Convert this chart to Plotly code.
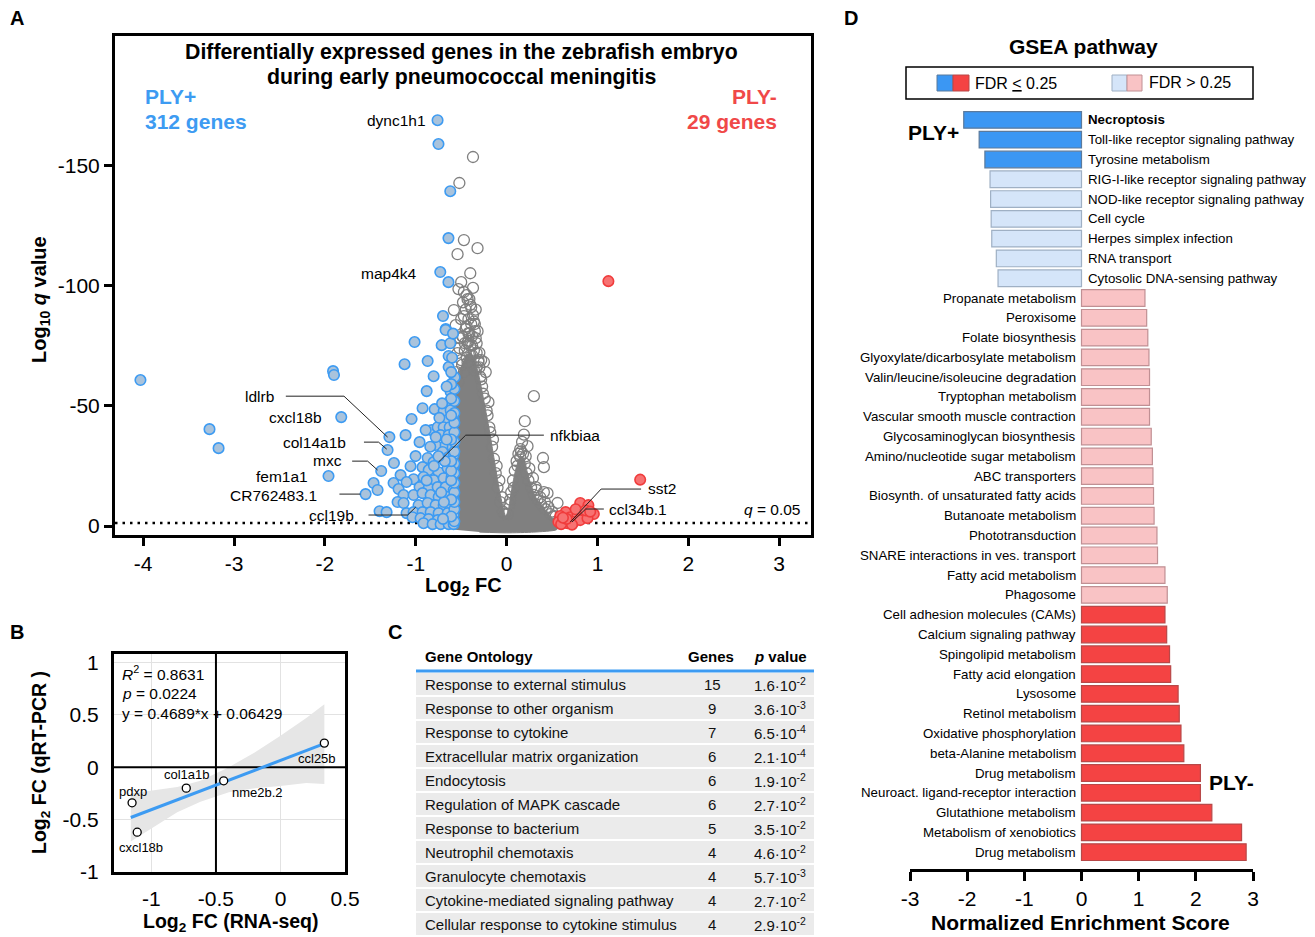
import math
import plotly.graph_objects as go

W, H = 1315, 937
OFF = 8  # page body margin of the html page
FONT = "Liberation Sans, Arial, Helvetica, sans-serif"
BLACK = "#000000"
BLUE = "#3d9bf2"
BLUE_FILL = "#a9c3dc"
RED_LINE = "#f03c3c"
RED_FILL = "#f77272"
GRAY = "#7f7f7f"

# ---------------- Panel A data (volcano) ----------------
x_ticks_a = [-4, -3, -2, -1, 0, 1, 2, 3]
y_ticks_a = [0, -50, -100, -150]
q_threshold_log10 = -1.3  # log10(0.05)
a_xrange = [-4.31, 3.35]
a_yrange = [3.7, -203.7]

# dense non-significant cloud outline (log2FC, log10 q)
cloud_fc = [-0.57, -0.57, -0.55, -0.52, -0.48, -0.44, -0.40, -0.36, -0.32, -0.28, -0.24, -0.20, -0.16,
            -0.12, -0.08, -0.04, -0.01, 0.02, 0.05, 0.08, 0.11, 0.14, 0.17, 0.20, 0.23, 0.27, 0.32,
            0.38, 0.44, 0.50, 0.55, 0.57, 0.55, 0.30, 0.00, -0.30]
cloud_q = [1.5, -45, -58, -64, -68, -71, -72, -70, -65, -58, -50, -42, -33,
           -24, -15, -8, -4, -7, -14, -20, -25, -28, -29, -27, -22, -17, -12,
           -9, -6, -3.5, -1.5, 0, 1.5, 2.5, 2.8, 2.5]

# individual non-significant genes
gray_fc = [-0.37, -0.52, -0.47, -0.32, -0.54, -0.40, -0.50, -0.53, -0.47, -0.43,
           -0.41, -0.58, -0.47, -0.37, -0.56, -0.42, -0.48, -0.34, -0.43, -0.54,
           -0.40, -0.31, -0.25, -0.36, -0.23, -0.20, 0.30, 0.20, 0.23, 0.15,
           0.40, 0.41, 0.32, 0.41, 0.45, 0.56,
           -0.29, -0.27, -0.24, -0.21, -0.19, -0.16, -0.14, -0.12, -0.10, -0.07, -0.04,
           -0.55, -0.50, -0.46, -0.42, -0.38, -0.33, -0.45, -0.39, -0.51, -0.35,
           0.03, 0.05, 0.07, 0.09, 0.11, 0.13, 0.16, 0.18, 0.20, 0.22,
           0.24, 0.27, 0.30, 0.34, 0.38, 0.43, 0.48, 0.52, 0.17, 0.19,
           -0.30, -0.26, -0.22, -0.18, -0.15, -0.11, -0.08, -0.05, -0.02,
           -0.49, -0.44, -0.40, -0.36, -0.31, -0.53, -0.47, -0.43, -0.38, -0.33, -0.28,
           0.01, 0.04, 0.08, 0.12, 0.15, 0.21, 0.25, 0.29, 0.33, 0.37, 0.42, 0.46, 0.50, 0.54,
           -0.52, -0.49, -0.46, -0.44, -0.41, -0.38, -0.36, -0.33, -0.30, -0.28,
           -0.50, -0.45, -0.42, -0.39, -0.35, -0.32, -0.48, -0.44, -0.40, -0.37, -0.34]
gray_q = [-153.4, -142.6, -118.9, -115.5, -113.0, -105.1, -101.4, -98.5, -97.3, -94.3,
          -94.3, -89.8, -87.3, -87.7, -83.5, -80.2, -78.6, -78.1, -76.1, -71.9,
          -71.1, -68.2, -68.2, -64.8, -64.0, -51.5, -54.0, -43.6, -33.2, -28.7,
          -28.3, -24.5, -16.2, -14.1, -13.7, -9.6,
          -62, -58, -53, -46, -41, -33, -28, -22, -16, -10, -6,
          -64, -69, -73, -77, -75, -72, -82, -84, -78, -81,
          -9, -14, -19, -23, -27, -30, -31, -30, -26, -22,
          -19, -16, -13, -11, -9, -7, -5, -4, -35, -38,
          -66, -55, -48, -39, -36, -25, -19, -12, -5,
          -67, -70, -75, -73, -69, -60, -64, -68, -71, -66, -61,
          -5, -11, -16, -25, -32, -29, -24, -20, -15, -12, -10, -8, -6, -4,
          -74, -79, -76, -83, -80, -79, -85, -76, -72, -69,
          -86, -90, -86, -91, -84, -81, -93, -96, -92, -99, -90]

# PLY+ genes (blue)
blue_fc = [-4.03, -3.27, -3.17, -1.91, -1.90, -1.82, -1.96, -1.29, -1.31, -1.24, -1.38,
           -0.76, -0.75, -0.62, -0.64, -0.73, -0.64, -0.70, -0.67,
           -0.671, -1.013, -0.715, -0.638, -1.123, -0.869, -0.638, -0.803, -0.572, -0.880,
           -0.616, -0.925, -0.792, -0.638, -0.693, -0.616, -1.046, -0.583, -0.649, -0.825,
           -0.891, -0.759, -0.693, -0.627, -1.112, -0.958, -0.726, -0.638, -0.781, -0.671,
           -0.594, -1.002, -0.869, -0.803, -0.704, -0.638, -0.583, -1.057, -0.925, -0.858,
           -0.748, -0.649, -0.583, -1.167, -1.024, -0.914, -0.803, -0.693, -0.605, -1.244,
           -1.101, -1.189, -0.958, -0.858, -0.759, -0.671, -0.583, -1.464, -1.420, -1.552,
           -1.134, -1.024, -0.925, -0.836, -0.748, -0.649, -0.583, -1.200, -1.134, -0.969,
           -0.869, -0.781, -0.693, -0.616, -1.398, -1.321, -1.101, -1.024, -0.925, -0.836,
           -0.748, -0.649, -0.583, -1.035, -0.947, -0.858, -0.759, -0.671, -0.594, -0.914,
           -0.814, -0.726, -0.638, -0.583,
           -0.575, -0.575, -0.575, -0.575, -0.575, -0.575, -0.575,
           -0.575, -0.575, -0.575, -0.575, -0.575, -0.575, -0.575,
           -0.61, -0.61, -0.61, -0.61, -0.61, -0.61, -0.61, -0.61, -0.61, -0.61,
           -0.70, -0.69, -0.72, -0.68, -0.75, -0.78, -0.84, -0.74, -0.80, -0.88,
           -0.66, -0.71, -0.66, -0.60, -0.62, -0.59]
blue_q = [-60.7, -40.3, -32.4, -64.4, -62.8, -45.3, -20.8, -37.0, -31.6, -26.2, -22.9,
          -168.7, -158.8, -139.2, -119.7, -105.6, -101.4, -87.3, -81.9,
          -81.5, -76.5, -75.2, -70.7, -67.3, -68.6, -66.1, -62.3, -61.9, -56.1,
          -55.7, -49.0, -48.6, -51.5, -47.8, -48.2, -44.5, -44.5, -44.1, -39.9,
          -39.9, -41.1, -41.1, -41.1, -37.8, -34.9, -37.8, -37.8, -33.7, -33.7,
          -32.8, -29.1, -28.3, -26.6, -30.8, -28.7, -29.5, -24.9, -24.5, -23.3,
          -22.4, -24.1, -24.5, -21.2, -19.5, -20.4, -19.1, -19.9, -20.4, -17.9,
          -18.3, -15.4, -16.2, -15.8, -16.2, -16.2, -15.0, -17.9, -15.0, -13.3,
          -12.9, -12.9, -13.7, -12.9, -12.1, -12.1, -11.6, -10.0, -9.6, -8.7,
          -9.6, -8.7, -8.7, -7.9, -6.2, -5.8, -5.4, -5.8, -5.8, -5.8,
          -5.4, -5.4, -4.6, -3.7, -3.3, -2.9, -2.5, -2.5, -1.7, -1.2,
          -0.8, -0.8, -0.8, -0.8,
          -2, -7, -10, -14, -18, -22, -26,
          -31, -35, -39, -43, -47, -52, -57,
          -4, -11, -19, -23, -27, -36, -46, -53, -59, -64,
          -3, -10, -14, -27, -29, -37, -33, -45, -25, -19,
          -36, -51, -58, -70, -76, -80]

# PLY- genes (red)
red_fc = [1.12, 1.47, 0.81, 0.90, 0.96, 0.65, 0.59, 0.70, 0.78, 0.85, 0.57, 0.63,
          0.67, 0.74, 0.81, 0.89, 0.60, 0.72, 0.66, 0.76, 0.87, 0.62, 0.92]
red_q = [-101.8, -19.3, -9.6, -8.7, -5.0, -5.8, -4.2, -3.7, -4.6, -5.4, -1.7, -1.7,
         -1.2, -1.7, -2.5, -3.3, -0.8, -0.6, -3.0, -7.0, -6.5, -3.5, -6.0]

# gene labels (text anchor in data coords)
label_genes = ["dync1h1", "map4k4", "ldlrb", "cxcl18b", "col14a1b", "mxc", "fem1a1",
               "CR762483.1", "ccl19b", "nfkbiaa", "sst2", "ccl34b.1"]
label_fc = [-0.86, -0.96, -2.54, -2.01, -1.75, -1.79, -2.16, -2.07, -1.66, 0.45, 1.53, 1.11]
label_q = [-168.7, -105.1, -54.0, -45.3, -34.9, -27.4, -20.8, -12.9, -4.6, -37.8, -15.8, -7.1]
label_side = ["right"] * 9 + ["left"] * 3

# leader lines (None separates segments)
leader_fc = [-2.43, -1.79, -1.31, None, -1.57, -1.41, -1.32, None, -1.70, -1.53, -1.42, None,
             -1.84, -1.61, None, -1.52, -1.09, -1.00, None, 0.41, -0.45, -0.75, None,
             1.48, 1.04, 0.70, None, 1.07, 0.87, 0.72]
leader_q = [-54.0, -54.0, -37.0, None, -34.9, -34.9, -32.0, None, -27.0, -27.0, -23.3, None,
            -13.3, -13.3, None, -4.6, -4.6, -7.9, None, -37.8, -37.8, -26.6, None,
            -15.4, -15.4, -1.7, None, -7.1, -7.1, -1.7]

# ---------------- Panel B data ----------------
qpcr_genes = ["pdxp", "cxcl18b", "col1a1b", "nme2b.2", "ccl25b"]
rnaseq_fc = [-1.15, -1.11, -0.73, -0.44, 0.34]
qpcr_fc = [-0.34, -0.62, -0.20, -0.13, 0.23]
fit_x = [-1.16, 0.34]
fit_y = [-0.480, 0.224]
band_x = [-1.16, -1.0, -0.8, -0.62, -0.4, -0.2, 0.0, 0.2, 0.34]
band_lo = [-0.71, -0.585, -0.43, -0.33, -0.24, -0.20, -0.18, -0.15, -0.16]
band_hi = [-0.25, -0.225, -0.19, -0.13, 0.00, 0.14, 0.30, 0.47, 0.60]
b_ticks = [-1, -0.5, 0, 0.5]
b_ticklabels = ["-1", "-0.5", "0", "0.5"]
b_yticks = [-1, -0.5, 0, 0.5, 1]
b_yticklabels = ["-1", "-0.5", "0", "0.5", "1"]

# ---------------- Panel C data ----------------
go_terms = ["Response to external stimulus", "Response to other organism", "Response to cytokine",
            "Extracellular matrix organization", "Endocytosis", "Regulation of MAPK cascade",
            "Response to bacterium", "Neutrophil chemotaxis", "Granulocyte chemotaxis",
            "Cytokine-mediated signaling pathway", "Cellular response to cytokine stimulus"]
go_genes = [15, 9, 7, 6, 6, 6, 5, 4, 4, 4, 4]
go_p_mant = ["1.6", "3.6", "6.5", "2.1", "1.9", "2.7", "3.5", "4.6", "5.7", "2.7", "2.9"]
go_p_exp = [-2, -3, -4, -4, -2, -2, -2, -2, -3, -2, -2]

# ---------------- Panel D data ----------------
gsea_pathways = ["Necroptosis", "Toll-like receptor signaling pathway", "Tyrosine metabolism",
                 "RIG-I-like receptor signaling pathway", "NOD-like receptor signaling pathway",
                 "Cell cycle", "Herpes simplex infection", "RNA transport", "Cytosolic DNA-sensing pathway",
                 "Propanate metabolism", "Peroxisome", "Folate biosynthesis",
                 "Glyoxylate/dicarbosylate metabolism", "Valin/leucine/isoleucine degradation",
                 "Tryptophan metabolism", "Vascular smooth muscle contraction",
                 "Glycosaminoglycan biosynthesis", "Amino/nucleotide sugar metabolism",
                 "ABC transporters", "Biosynth. of unsaturated fatty acids", "Butanoate metabolism",
                 "Phototransduction", "SNARE interactions in ves. transport", "Fatty acid metabolism",
                 "Phagosome", "Cell adhesion molecules (CAMs)", "Calcium signaling pathway",
                 "Spingolipid metabolism", "Fatty acid elongation", "Lysosome", "Retinol metabolism",
                 "Oxidative phosphorylation", "beta-Alanine metabolism", "Drug metabolism",
                 "Neuroact. ligand-receptor interaction", "Glutathione metabolism",
                 "Metabolism of xenobiotics", "Drug metabolism"]
nes = [-2.06, -1.79, -1.69, -1.60, -1.59, -1.58, -1.57, -1.49, -1.46,
       1.11, 1.14, 1.16, 1.18, 1.19, 1.19, 1.19, 1.22, 1.24, 1.25, 1.26, 1.27, 1.32, 1.33, 1.46, 1.50,
       1.46, 1.49, 1.54, 1.56, 1.69, 1.71, 1.74, 1.79, 2.08, 2.08, 2.28, 2.80, 2.88]
fdr_significant = [True, True, True, False, False, False, False, False, False,
                   False, False, False, False, False, False, False, False, False, False, False,
                   False, False, False, False, False,
                   True, True, True, True, True, True, True, True, True, True, True, True, True]
d_ticks = [-3, -2, -1, 0, 1, 2, 3]
d_ticklabels = ["-3", "-2", "-1", "0", "1", "2", "3"]

BAR_BLUE, BAR_LBLUE, BAR_PINK, BAR_RED = "#3b97f3", "#d5e5f9", "#f9c3c5", "#f44343"
LN_BLUE, LN_LBLUE, LN_PINK, LN_RED = "#5b7a9c", "#9fb0c4", "#c09094", "#b84848"


def fx(p):
    return (p - OFF) / W


def fy(p):
    return 1 - (p - OFF) / H


A_DOM_X = [fx(115), fx(811)]
A_DOM_Y = [fy(535), fy(36)]

annotations = []
shapes = []


def txt(x, y, text, size, xanchor="center", yanchor="middle", bold=False, color=BLACK,
        xref="paper", yref="paper", **kw):
    if bold:
        text = f"<b>{text}</b>"
    if xref == "paper":
        x = fx(x)
    if yref == "paper":
        y = fy(y)
    annotations.append(dict(x=x, y=y, xref=xref, yref=yref, text=text, showarrow=False,
                            xanchor=xanchor, yanchor=yanchor,
                            font=dict(family=FONT, size=size, color=color), **kw))


fig = go.Figure()

# ---------- Panel A traces ----------
fig.add_trace(go.Scatter(x=a_xrange, y=[q_threshold_log10, q_threshold_log10], mode="lines",
                         line=dict(color=BLACK, width=2.5, dash="2.5px,5px"),
                         xaxis="x", yaxis="y", hoverinfo="skip"))
fig.add_trace(go.Scatter(x=cloud_fc, y=cloud_q, mode="lines", fill="toself", fillcolor="#808080",
                         line=dict(color="#808080", width=1, shape="spline", smoothing=0.6),
                         xaxis="x", yaxis="y", hoverinfo="skip"))
fig.add_trace(go.Scatter(x=gray_fc, y=gray_q, mode="markers",
                         marker=dict(size=11, color="rgba(255,255,255,0)", line=dict(color=GRAY, width=1.3)),
                         xaxis="x", yaxis="y"))
fig.add_trace(go.Scatter(x=blue_fc, y=blue_q, mode="markers",
                         marker=dict(size=10.5, color=BLUE_FILL, line=dict(color=BLUE, width=1.6)),
                         xaxis="x", yaxis="y"))
fig.add_trace(go.Scatter(x=red_fc, y=red_q, mode="markers",
                         marker=dict(size=10.5, color=RED_FILL, line=dict(color=RED_LINE, width=1.6)),
                         xaxis="x", yaxis="y"))
fig.add_trace(go.Scatter(x=leader_fc, y=leader_q, mode="lines", line=dict(color="#222222", width=1),
                         xaxis="x", yaxis="y", hoverinfo="skip", connectgaps=False))

for g, xv, yv, side in zip(label_genes, label_fc, label_q, label_side):
    txt(xv, yv, g, 15.5, xanchor=side, xref="x", yref="y")

# minor (log-style) ticks of the segmented y axis, drawn as short tick marks just left of the axis
minor_a = []
for upper in (-50, -100, -150):
    for k in range(2, 10):
        minor_a.append(upper + math.log10(k) * 50)
for k in range(3, 10):
    minor_a.append(-200 + math.log10(k) * 50)
tick_x = a_xrange[0] - 4.0 / 90.86  # about 4 px outside the left edge
fig.add_trace(go.Scatter(x=[tick_x] * len(minor_a), y=minor_a, mode="markers", cliponaxis=False,
                         marker=dict(symbol="line-ew", size=6, color=BLACK, line=dict(color=BLACK, width=2)),
                         xaxis="x", yaxis="y", hoverinfo="skip"))

# ---------- Panel B traces ----------
fig.add_trace(go.Scatter(x=band_x + band_x[::-1], y=band_hi + band_lo[::-1], mode="lines",
                         fill="toself", fillcolor="#e6e6e6", line=dict(width=0),
                         xaxis="x2", yaxis="y2", hoverinfo="skip"))
fig.add_trace(go.Scatter(x=[-0.5, -0.5, None, -1.29, 0.5], y=[-1, 1.08, None, 0, 0], mode="lines",
                         line=dict(color=BLACK, width=2), xaxis="x2", yaxis="y2", hoverinfo="skip"))
fig.add_trace(go.Scatter(x=fit_x, y=fit_y, mode="lines", line=dict(color=BLUE, width=3),
                         xaxis="x2", yaxis="y2"))
fig.add_trace(go.Scatter(x=rnaseq_fc, y=qpcr_fc, mode="markers",
                         marker=dict(size=8, color="white", line=dict(color=BLACK, width=1.3)),
                         xaxis="x2", yaxis="y2"))
b_label_shift = [(1, 11), (4, -15), (1, 14), (34, -12), (-7, -15)]
for g, xv, yv, (sx, sy) in zip(qpcr_genes, rnaseq_fc, qpcr_fc, b_label_shift):
    txt(xv, yv, g, 13, xref="x2", yref="y2", xshift=sx, yshift=sy)

txt(120, 673, "<i>R</i><sup>2</sup> = 0.8631", 15.5, xanchor="left")
txt(120, 693, "<i>p</i> = 0.0224", 15.5, xanchor="left")
txt(120, 713, "y = 0.4689*x + 0.06429", 15.5, xanchor="left")

# ---------- Panel C (table) ----------
txt(423, 656, "Gene Ontology", 15, xanchor="left", bold=True)
txt(711, 656, "Genes", 15, bold=True)
txt(752, 656, "<i>p</i> value", 15, xanchor="left", bold=True)
shapes.append(dict(type="line", xref="paper", yref="paper", x0=fx(416), x1=fx(814), y0=fy(671), y1=fy(671),
                   line=dict(color=BLUE, width=3)))
for i, (term, ng, pm, pe) in enumerate(zip(go_terms, go_genes, go_p_mant, go_p_exp)):
    yc = 684 + 24 * i
    shapes.append(dict(type="rect", xref="paper", yref="paper", x0=fx(416), x1=fx(814),
                       y0=fy(yc + 11), y1=fy(yc - 11), fillcolor="#ebebeb", line=dict(width=0),
                       layer="below"))
    txt(423, yc, term, 15, xanchor="left", color="#111111")
    txt(712, yc, str(ng), 15, color="#111111")
    txt(752, yc, f"{pm}·10<sup>{pe}</sup>", 15, xanchor="left", color="#111111")

# ---------- Panel D traces ----------
bar_colors, bar_lines = [], []
for v, sig in zip(nes, fdr_significant):
    if v < 0:
        bar_colors.append(BAR_BLUE if sig else BAR_LBLUE)
        bar_lines.append(LN_BLUE if sig else LN_LBLUE)
    else:
        bar_colors.append(BAR_RED if sig else BAR_PINK)
        bar_lines.append(LN_RED if sig else LN_PINK)
positions = list(range(len(gsea_pathways)))
fig.add_trace(go.Bar(x=nes, y=positions, orientation="h", width=0.84,
                     marker=dict(color=bar_colors, line=dict(color=bar_lines, width=1.2)),
                     xaxis="x3", yaxis="y3"))
for i, (name, v) in enumerate(zip(gsea_pathways, nes)):
    if v < 0:
        txt(0, i, name, 13.3, xanchor="left", xref="x3", yref="y3", xshift=4, bold=(i == 0))
    else:
        txt(0, i, name, 13.3, xanchor="right", xref="x3", yref="y3", xshift=-4)

txt(1083, 47, "GSEA pathway", 21, bold=True)
shapes.append(dict(type="rect", xref="paper", yref="paper", x0=fx(906), x1=fx(1253), y0=fy(99), y1=fy(67),
                   line=dict(color=BLACK, width=1.5), fillcolor="rgba(0,0,0,0)"))
for (x0, x1, col, ln) in [(937, 953, BAR_BLUE, LN_BLUE), (953, 969, BAR_RED, LN_RED),
                          (1112, 1127, BAR_LBLUE, LN_LBLUE), (1127, 1142, BAR_PINK, LN_PINK)]:
    shapes.append(dict(type="rect", xref="paper", yref="paper", x0=fx(x0), x1=fx(x1), y0=fy(91), y1=fy(75),
                       fillcolor=col, line=dict(color=ln, width=1)))
txt(973, 84, "FDR <u>&lt;</u> 0.25", 16, xanchor="left")
txt(1147, 82, "FDR &gt; 0.25", 16, xanchor="left")
txt(933, 132, "PLY+", 21, bold=True)
txt(1231, 782, "PLY-", 21, bold=True)
txt(1080, 922, "Normalized Enrichment Score", 21, bold=True)

# ---------- Panel A texts ----------
txt(461, 52, "Differentially expressed genes in the zebrafish embryo", 21.3, bold=True)
txt(461, 77, "during early pneumococcal meningitis", 21.3, bold=True)
txt(143, 96, "PLY+", 21, xanchor="left", bold=True, color=BLUE)
txt(143, 122, "312 genes", 21, xanchor="left", bold=True, color=BLUE)
txt(779, 96, "PLY-", 21, xanchor="right", bold=True, color="#f04848")
txt(779, 122, "29 genes", 21, xanchor="right", bold=True, color="#f04848")
txt(802, 509, "<i>q</i> = 0.05", 15.5, xanchor="right")
txt(40, 300, "Log<sub>10</sub> <i>q</i> value", 20, bold=True, textangle=-90)
txt(463, 586, "Log<sub>2</sub> FC", 20, bold=True)

# Panel B axis titles
txt(40, 763, "Log<sub>2</sub> FC (qRT-PCR )", 19.5, bold=True, textangle=-90)
txt(231, 922, "Log<sub>2</sub> FC (RNA-seq)", 19.5, bold=True)

# panel letters
for (lx, ly, L) in [(17, 18, "A"), (17, 632, "B"), (395, 632, "C"), (851, 18, "D")]:
    txt(lx, ly, L, 20, bold=True)


def tickfont(s):
    return dict(family=FONT, size=s, color=BLACK)


fig.update_layout(
    template="none",
    width=W, height=H, margin=dict(l=0, r=0, t=0, b=0, pad=0), autosize=False,
    paper_bgcolor="white", plot_bgcolor="white", showlegend=False,
    font=dict(family=FONT, color=BLACK),
    xaxis=dict(domain=A_DOM_X, range=a_xrange, anchor="y", automargin=False,
               tickmode="array", tickvals=x_ticks_a, ticktext=[str(v) for v in x_ticks_a],
               ticks="outside", ticklen=8, tickwidth=2.5, tickcolor=BLACK,
               showline=True, linewidth=3, linecolor=BLACK, mirror=True,
               showgrid=False, zeroline=False, tickfont=tickfont(21)),
    yaxis=dict(domain=A_DOM_Y, range=a_yrange, anchor="x", automargin=False,
               tickmode="array", tickvals=y_ticks_a, ticktext=[str(v) for v in y_ticks_a],
               ticks="outside", ticklen=8, tickwidth=2.5, tickcolor=BLACK,
               showline=True, linewidth=3, linecolor=BLACK, mirror=True,
               showgrid=False, zeroline=False, tickfont=tickfont(21)),
    xaxis2=dict(domain=[fx(114), fx(345)], range=[-1.29, 0.5], anchor="y2", automargin=False,
                tickmode="array", tickvals=b_ticks, ticktext=b_ticklabels, ticks="",
                showline=True, linewidth=3, linecolor=BLACK, mirror=True,
                showgrid=True, gridcolor="#e2e2e2", gridwidth=1, zeroline=False,
                tickfont=tickfont(21), ticklabelstandoff=6),
    yaxis2=dict(domain=[fy(872), fy(654)], range=[-1, 1.08], anchor="x2", automargin=False,
                tickmode="array", tickvals=b_yticks, ticktext=b_yticklabels, ticks="",
                showline=True, linewidth=3, linecolor=BLACK, mirror=True,
                showgrid=True, gridcolor="#e2e2e2", gridwidth=1, zeroline=False,
                tickfont=tickfont(21), ticklabelstandoff=8),
    xaxis3=dict(domain=[fx(910), fx(1253)], range=[-3, 3], anchor="y3", automargin=False,
                tickmode="array", tickvals=d_ticks, ticktext=d_ticklabels,
                ticks="outside", ticklen=9, tickwidth=3, tickcolor=BLACK,
                showline=True, linewidth=3, linecolor=BLACK, mirror=False,
                showgrid=False, zeroline=False, tickfont=tickfont(21)),
    yaxis3=dict(domain=[fy(869), fy(110)], range=[37.85, -0.5], anchor="x3", visible=False,
                automargin=False, showgrid=False, zeroline=False),
    annotations=annotations, shapes=shapes,
)

fig.write_html("out.html")
